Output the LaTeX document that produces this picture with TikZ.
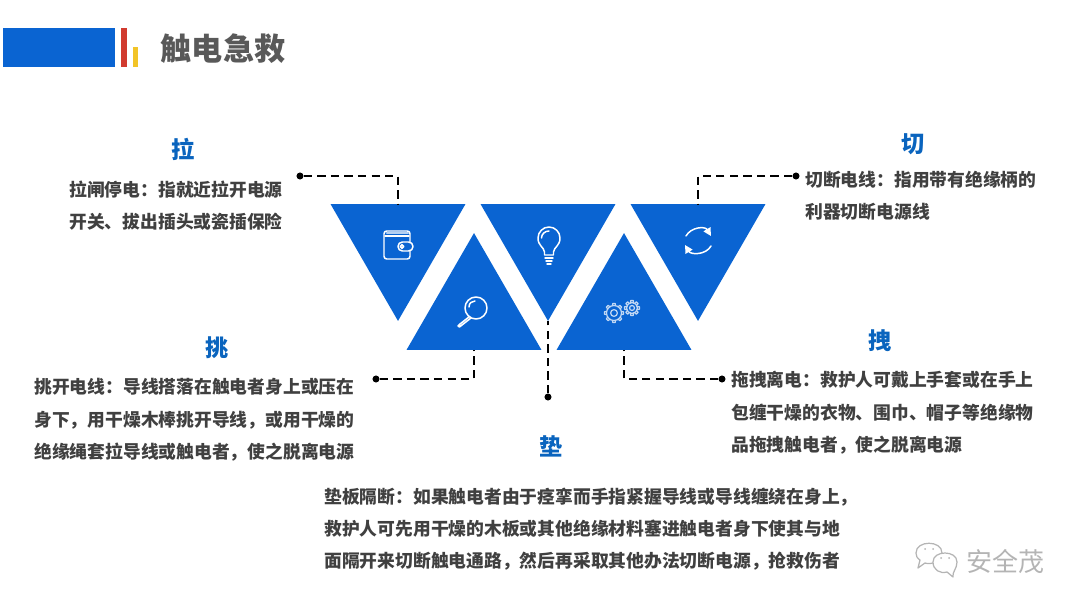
\documentclass[tikz,border=0pt]{standalone}
\usepackage{fontspec}
\setmainfont{Noto Sans CJK SC}
\usepackage{xcolor}
\usetikzlibrary{shapes.geometric}
\usetikzlibrary{arrows.meta}
\definecolor{mainblue}{HTML}{0A64D2}
\definecolor{headblue}{HTML}{0A64BE}
\definecolor{bodygray}{HTML}{404040}
\definecolor{titlegray}{HTML}{595959}
\definecolor{markgray}{HTML}{B4B4B4}
\definecolor{barred}{HTML}{D13B2F}
\definecolor{baryellow}{HTML}{F2C428}
\tikzset{
	tridown/.style={
			regular polygon, regular polygon sides=3, shape border rotate=180,
			fill=mainblue, inner sep=0pt, outer sep=0pt, minimum size=3.118cm
		},
	triup/.style={tridown, shape border rotate=0},
	link/.style={black, line width=1.35pt, dash pattern=on 4.8pt off 2.9pt},
	linkdot/.style={circle, fill=black, inner sep=0pt, minimum size=4pt},
	head/.style={text=headblue, font=\fontsize{13.2pt}{15pt}\selectfont\bfseries},
	body/.style={text=bodygray, align=left, anchor=west, inner sep=0pt, font=\fontsize{10.12pt}{18.4pt}\selectfont\bfseries},
	icon/.style={draw=white, line width=0.85pt, line join=round, line cap=round},
	wallet/.pic={
			\draw[icon, rounded corners=1.5pt] (-14,-14) rectangle (12,14);
			\draw[icon] (-13,-9) -- (11,-9);
			\draw[icon, line width=1.2pt, draw=white!70!mainblue] (-11,-12) -- (10,-12);
			\draw[icon, fill=mainblue, rounded corners=2.5pt] (0,-3) rectangle (15,6);
			\draw[icon] (4,1.5) circle[radius=1.8];
		},
	bulb/.pic={
			\draw[icon] (-4.5,9) -- (-4.5,6) .. controls (-5,1) and (-11,0) .. (-11,-8) .. controls (-11,-14) and (-6,-19) .. (0,-19) .. controls (6,-19) and (11,-14) .. (11,-8) .. controls (11,0) and (5,1) .. (4.5,6) -- (4.5,9) -- cycle;
			\draw[icon] (-7.5,-8) .. controls (-7.5,-12) and (-4,-15) .. (0,-15);
			\draw[icon] (-4,12) -- (4,12) (-3,15) -- (3,15) (-2,18) -- (2,18);
		},
	lens/.pic={
			\draw[icon] (0,0) circle[radius=11];
			\draw[icon] (-7,-1) .. controls (-7,-5) and (-4,-7) .. (-1,-7);
			\draw[icon] (-6.5,8.5) -- (-16,16) -- (-18,18) -- (-16.5,19) -- (-14,17) -- (-5,10);
		},
	gear/.pic={
			\foreach \a in {0,45,...,315}{
				\draw[icon, line width=0.7pt, draw=white!75!mainblue, rotate=\a] (-1.5,-#1) -- (-1.2,-#1-2) -- (1.2,-#1-2) -- (1.5,-#1);
			}
			\draw[icon, line width=0.7pt, draw=white!75!mainblue] (0,0) circle[radius=#1];
			\draw[icon, line width=0.7pt, draw=white!75!mainblue] (0,0) circle[radius=#1*0.45];
		},
	refresh/.pic={
			\draw[icon, -{Triangle[length=4.5pt,width=4.5pt]}] (-12,-5) .. controls (-7,-14) and (7,-15) .. (13,-5);
			\draw[icon, -{Triangle[length=4.5pt,width=4.5pt]}] (13,5) .. controls (8,14) and (-7,14) .. (-13,4);
		}
}

\begin{document}
\begin{tikzpicture}[x=0.02cm, y=-0.02cm]
	\useasboundingbox (0,0) rectangle (1080,608);

	\fill[mainblue] (3,28) rectangle (115,67);
	\fill[barred] (121,28) rectangle (127,67);
	\fill[baryellow] (133,47) rectangle (138,67);
	\node[text=titlegray, font=\fontsize{17.7pt}{20pt}\selectfont\bfseries] (title) at (223,49) {触电急救};

	\node[tridown] (t1) at (398,243) {};
	\node[tridown] (t2) at (548,243) {};
	\node[tridown] (t3) at (698,243) {};
	\node[triup] (t4) at (474,311) {};
	\node[triup] (t5) at (624,311) {};

	\pic at (398,245) {wallet};
	\pic at (549,246) {bulb};
	\pic at (698,241) {refresh};
	\pic at (476,308) {lens};
	\pic at (614,313) {gear=7.5};
	\pic at (632,308) {gear=5.5};

	\node[linkdot] (d1) at (300,176) {};
	\node[linkdot] (d2) at (796,176) {};
	\node[linkdot] (d3) at (376,379) {};
	\node[linkdot] (d4) at (722,379) {};
	\node[linkdot] (d5) at (548,397) {};
	\draw[link] (d1) -| (t1.side 2);
	\draw[link] (d2) -| (t3.side 2);
	\draw[link] (d3) -| (t4.side 2);
	\draw[link] (d4) -| (t5.side 2);
	\draw[link] (d5) -- (t2.corner 1);

	\node[head] (h1) at (183,149) {拉};
	\node[head] (h2) at (913,144) {切};
	\node[head] (h3) at (217,348) {挑};
	\node[head] (h4) at (880,341) {拽};
	\node[head] (h5) at (551,446) {垫};

	\node[body] (b1) at (69,206) {拉闸停电：指就近拉开电源\\开关、拔出插头或瓷插保险};
	\node[body] (b2) at (805,196) {切断电线：指用带有绝缘柄的\\利器切断电源线};
	\node[body] (b3) at (34,420) {挑开电线：导线搭落在触电者身上或压在\\身下，用干燥木棒挑开导线，或用干燥的\\绝缘绳套拉导线或触电者，使之脱离电源};
	\node[body] (b4) at (731,413) {拖拽离电：救护人可戴上手套或在手上\\包缠干燥的衣物、围巾、帽子等绝缘物\\品拖拽触电者，使之脱离电源};
	\node[body] (b5) at (324,529) {垫板隔断：如果触电者由于痉挛而手指紧握导线或导线缠绕在身上，\\救护人可先用干燥的木板或其他绝缘材料塞进触电者身下使其与地\\面隔开来切断触电通路，然后再采取其他办法切断电源，抢救伤者};

	% watermark
	\draw[markgray, line width=0.7pt, line join=round] (916,553) .. controls (916,540) and (942,540) .. (942,553) .. controls (942,562) and (930,565) .. (925,563) -- (918,568) -- (920,560) .. controls (917,558) and (916,556) .. (916,553);
	\draw[markgray, line width=0.7pt, line join=round, fill=white] (933,562) .. controls (933,550) and (957,550) .. (957,562) .. controls (957,569) and (952,572) .. (953,577) -- (947,572) .. controls (940,574) and (933,570) .. (933,562);
	\foreach \x/\y in {925/549,933/549,941/558,949/558}{
		\fill[markgray] (\x,\y) circle[radius=1];
	}
	\node[text=markgray, font=\fontsize{14.8pt}{17pt}\selectfont] (mark) at (1005,561) {安全茂};
\end{tikzpicture}
\end{document}
